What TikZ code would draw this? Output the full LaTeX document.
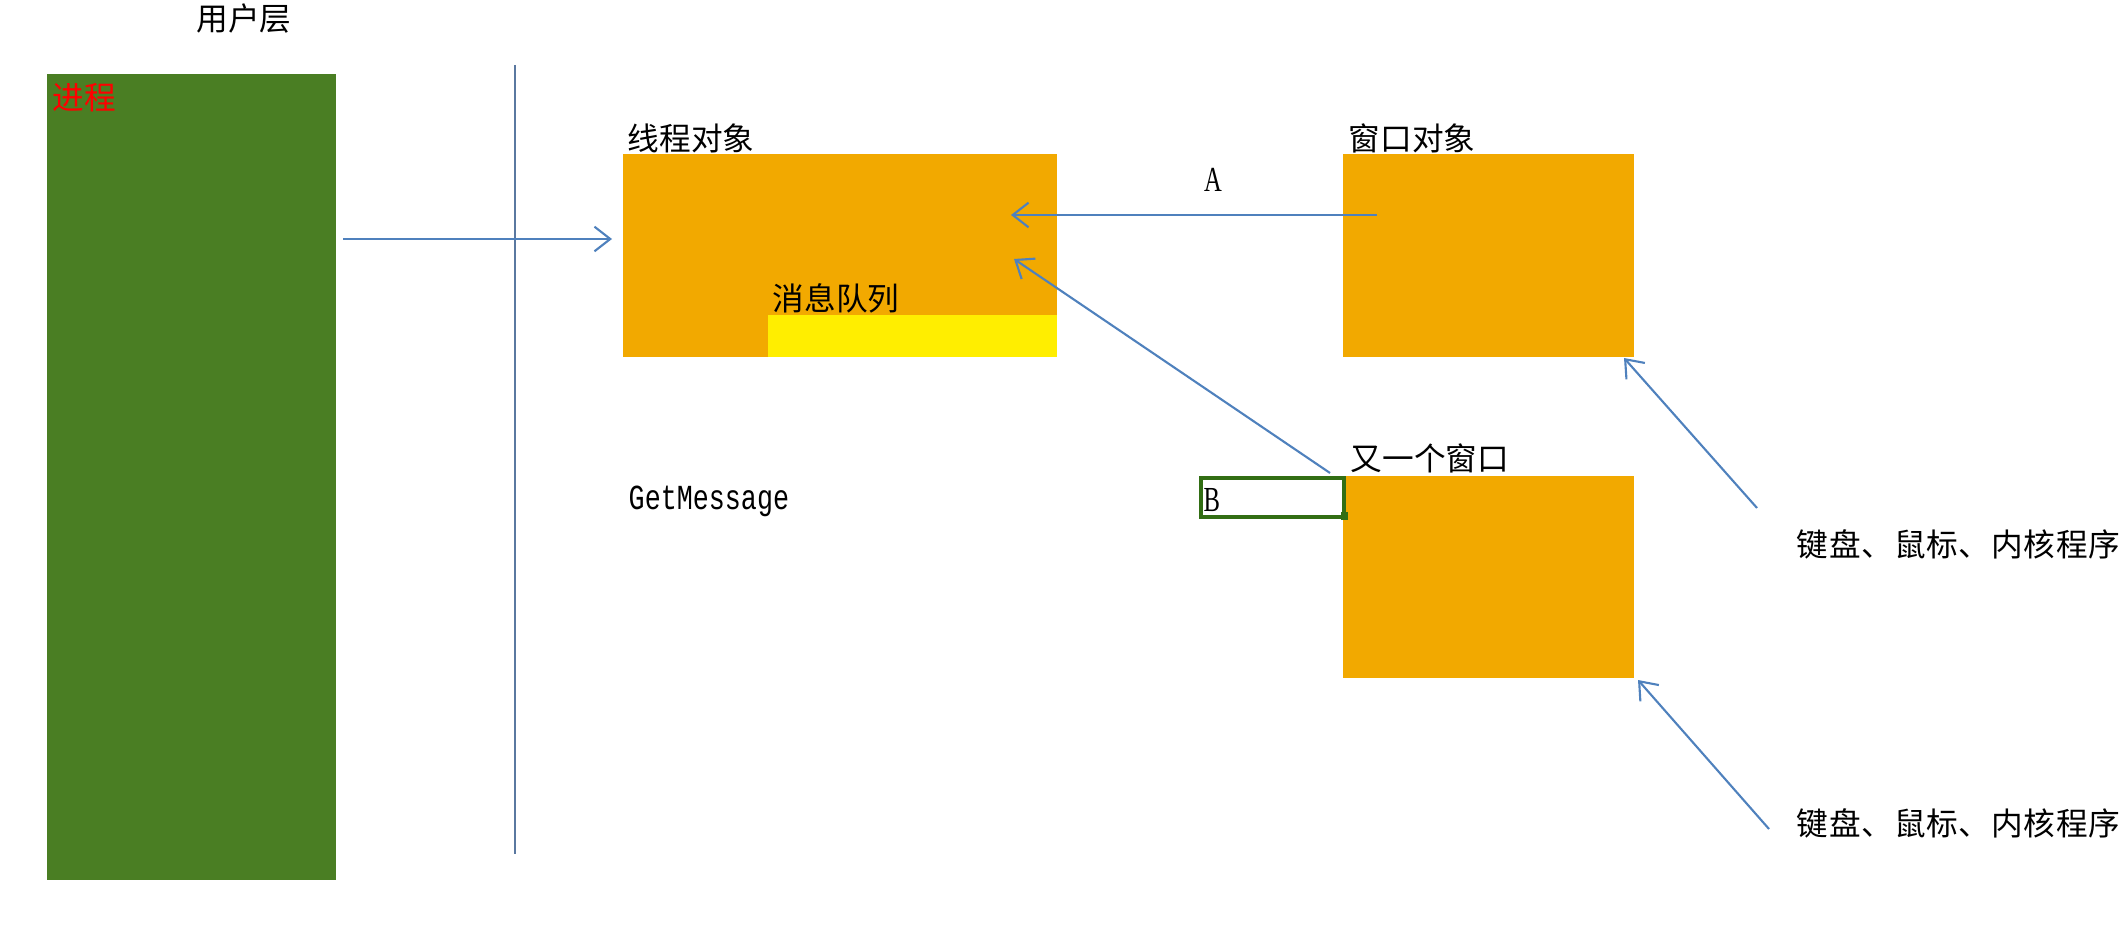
\documentclass[tikz,border=0pt]{standalone}
\usepackage{fontspec}
\usepackage{graphicx}
\usetikzlibrary{arrows.meta}
\newfontfamily\cjk{Noto Sans CJK SC}
\newfontfamily\cjkwide[LetterSpace=2.5]{Noto Sans CJK SC}
\newfontfamily\mono{Liberation Mono}
\newfontfamily\serifl{Liberation Serif}
\definecolor{procgreen}{RGB}{74,126,35}
\definecolor{boxorange}{RGB}{242,169,0}
\definecolor{queueyellow}{RGB}{255,238,0}
\definecolor{arrowblue}{RGB}{79,129,189}
\definecolor{lineblue}{RGB}{90,120,160}
\definecolor{bgreen}{RGB}{50,110,20}
\tikzset{
  fillbox/.style={rectangle, draw=none, inner sep=0pt, outer sep=0pt, anchor=north west},
  lbl/.style={inner sep=0pt, anchor=west, font=\cjk\fontsize{9}{11}\selectfont},
  arr/.style={draw=arrowblue, line width=0.6pt, -{Straight Barb[length=4.5pt,width=7pt]}},
}
\begin{document}
\begin{tikzpicture}[x=0.01cm, y=-0.01cm]
\useasboundingbox (0,0) rectangle (2119,934);
% boxes
\node[fillbox, fill=procgreen, minimum width=2.89cm, minimum height=8.06cm] (proc) at (47,74) {};
\node[fillbox, fill=boxorange, minimum width=4.34cm, minimum height=2.03cm] (thread) at (623,154) {};
\node[fillbox, fill=queueyellow, minimum width=2.89cm, minimum height=0.42cm] (queue) at (768,315) {};
\node[fillbox, fill=boxorange, minimum width=2.91cm, minimum height=2.03cm] (win) at (1343,154) {};
\node[fillbox, fill=boxorange, minimum width=2.91cm, minimum height=2.02cm] (win2) at (1343,476) {};
\node[rectangle, draw=bgreen, line width=1.1pt, inner sep=0pt, outer sep=0pt, anchor=north west, minimum width=1.43cm, minimum height=0.39cm] (bbox) at (1201,478) {};
\node[fillbox, fill=bgreen, minimum width=0.07cm, minimum height=0.08cm] (handle) at (1341,512) {};
% vertical divider
\coordinate (vt) at (515,65);
\coordinate (vb) at (515,854);
\draw[lineblue, line width=0.6pt] (vt) -- (vb);
% texts
\node[inner sep=0pt, font=\cjk\fontsize{9}{11}\selectfont] (user) at (244,19) {用户层};
\node[lbl, text=red] (proclbl) at (52,98) {进程};
\node[lbl] (threadlbl) at (627,138) {线程对象};
\node[lbl] (queuelbl) at (772,298) {消息队列};
\node[lbl] (winlbl) at (1348,138) {窗口对象};
\node[lbl] (win2lbl) at (1350,458) {又一个窗口};
\node[inner sep=0pt, font=\serifl\fontsize{10}{12}\selectfont] (alabel) at (1213,180) {\scalebox{0.7}[1]{A}};
\node[inner sep=0pt, anchor=west, font=\serifl\fontsize{10}{12}\selectfont] (blabel) at (1203,500) {\scalebox{0.7}[1]{B}};
\node[inner sep=0pt, anchor=west, font=\mono\fontsize{10}{12}\selectfont] (getmsg) at (628,501) {\scalebox{0.76}[1]{GetMessage}};
\node[inner sep=0pt, anchor=west, font=\cjkwide\fontsize{9}{11}\selectfont] (kb1) at (1796,544) {键盘、鼠标、内核程序};
\node[inner sep=0pt, anchor=west, font=\cjkwide\fontsize{9}{11}\selectfont] (kb2) at (1796,823) {键盘、鼠标、内核程序};
% arrow endpoints
\coordinate (p1s) at (343,239);
\coordinate (p1e) at (612,239);
\coordinate (as) at (1377,215);
\coordinate (ae) at (1011,215);
\coordinate (bs) at (1330,473);
\coordinate (be) at (1014,259);
\coordinate (k1s) at (1757,508);
\coordinate (k1e) at (1624,358);
\coordinate (k2s) at (1769,829);
\coordinate (k2e) at (1638,680);
% arrows
\draw[arr] (p1s) -- (p1e);
\draw[arr] (as) -- (ae);
\draw[arr] (bs) -- (be);
\draw[arr] (k1s) -- (k1e);
\draw[arr] (k2s) -- (k2e);
\end{tikzpicture}
\end{document}
